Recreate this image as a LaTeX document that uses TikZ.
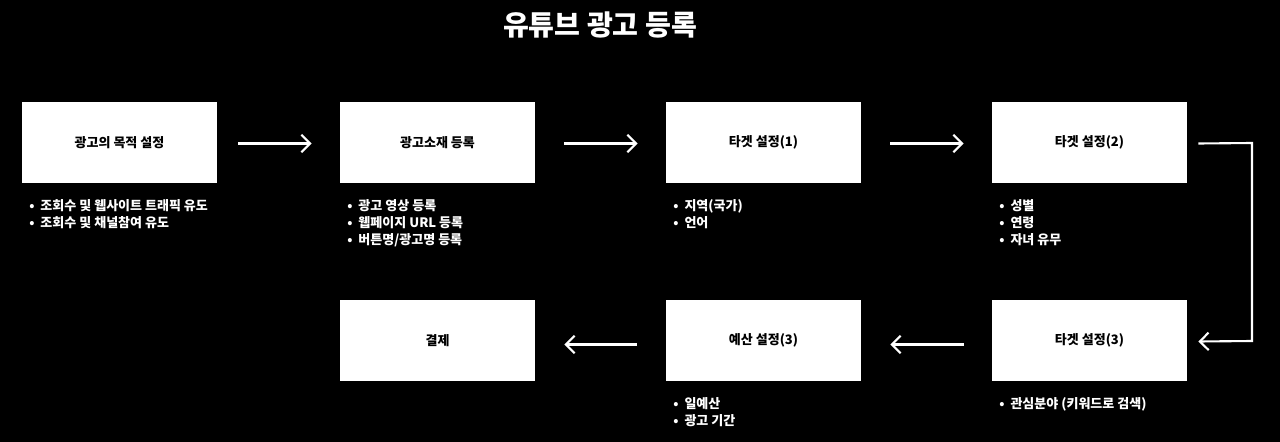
\documentclass[tikz,border=0pt]{standalone}
\usepackage{fontspec}
\setmainfont{Noto Sans CJK KR}
\usetikzlibrary{arrows.meta}
\begin{document}
\begin{tikzpicture}[x=0.02cm,y=-0.02cm,
  box/.style={fill=white,minimum width=195*0.02cm,minimum height=81*0.02cm,inner sep=0,font=\fontsize{7.4}{9}\selectfont\bfseries,text=black},
  conn/.style={draw=white,line width=1.2pt,-{Straight Barb[length=5pt,width=10pt,line width=1.2pt]}},
  blist/.style={anchor=north west,text=white,font=\fontsize{7.4}{9.6}\selectfont\bfseries,align=left,inner sep=0}]
\fill[black] (0,0) rectangle (1280,442);
\useasboundingbox (0,0) rectangle (1280,442);
\node[text=white,font=\fontsize{16}{18}\selectfont\bfseries] (title) at (600,25) {유튜브 광고 등록};
\node[box] (b1) at (119.5,142.5) {광고의 목적 설정};
\node[box] (b2) at (437.5,142.5) {광고소재 등록};
\node[box] (b3) at (763.5,142.5) {타겟 설정(1)};
\node[box] (b4) at (1089.5,142.5) {타겟 설정(2)};
\node[box] (b5) at (1089.5,340.5) {타겟 설정(3)};
\node[box] (b6) at (763.5,340.5) {예산 설정(3)};
\node[box] (b7) at (437.5,340.5) {결제};
\draw[conn] ([xshift=21*0.02cm,yshift=-1*0.02cm]b1.east) -- ([xshift=-28*0.02cm,yshift=-1*0.02cm]b2.west);
\draw[conn] ([xshift=29*0.02cm,yshift=-1*0.02cm]b2.east) -- ([xshift=-28*0.02cm,yshift=-1*0.02cm]b3.west);
\draw[conn] ([xshift=29*0.02cm,yshift=-1*0.02cm]b3.east) -- ([xshift=-28*0.02cm,yshift=-1*0.02cm]b4.west);
\coordinate (c1) at (1252,143);
\coordinate (c2) at (1252,341);
\draw[conn] ([xshift=11*0.02cm,yshift=-1*0.02cm]b4.east) -- (c1) -- (c2) -- ([xshift=11*0.02cm,yshift=-1*0.02cm]b5.east);
\draw[conn] ([xshift=-28*0.02cm,yshift=-4*0.02cm]b5.west) -- ([xshift=29*0.02cm,yshift=-4*0.02cm]b6.east);
\draw[conn] ([xshift=-29*0.02cm,yshift=-4*0.02cm]b6.west) -- ([xshift=29*0.02cm,yshift=-4*0.02cm]b7.east);
\node[blist] (l1) at (29,199) {•\ \ 조회수 및 웹사이트 트래픽 유도\\•\ \ 조회수 및 채널참여 유도};
\node[blist] (l2) at (347,199) {•\ \ 광고 영상 등록\\•\ \ 웹페이지 URL 등록\\•\ \ 버튼명/광고명 등록};
\node[blist] (l3) at (673,199) {•\ \ 지역(국가)\\•\ \ 언어};
\node[blist] (l4) at (999,199) {•\ \ 성별\\•\ \ 연령\\•\ \ 자녀 유무};
\node[blist] (l5) at (999,397) {•\ \ 관심분야 (키워드로 검색)};
\node[blist] (l6) at (673,397) {•\ \ 일예산\\•\ \ 광고 기간};
\end{tikzpicture}
\end{document}
